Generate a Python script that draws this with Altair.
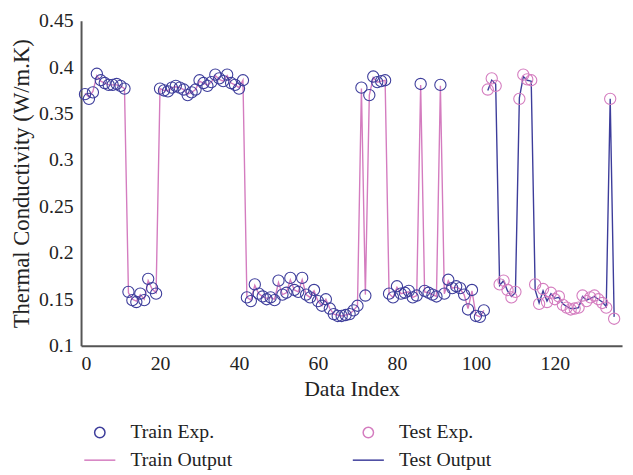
import altair as alt
import pandas as pd

# ---------------- data ----------------
train_index = list(range(1, 103))
train_exp = [
    0.371, 0.366, 0.373, 0.393, 0.386, 0.383, 0.381, 0.381, 0.382, 0.380, 0.377,
    0.158, 0.149, 0.147, 0.156, 0.149, 0.172, 0.162, 0.156,
    0.377, 0.375, 0.374, 0.378, 0.380, 0.378, 0.376, 0.370, 0.373, 0.376, 0.386,
    0.383, 0.380, 0.384, 0.392, 0.388, 0.385, 0.392, 0.383, 0.381, 0.377, 0.386,
    0.152, 0.148, 0.166, 0.156, 0.153, 0.150, 0.152, 0.149, 0.170, 0.155,
    0.157, 0.173, 0.160, 0.158, 0.173, 0.155, 0.152, 0.160, 0.148, 0.143,
    0.150, 0.140, 0.134, 0.132, 0.132, 0.133, 0.134, 0.138, 0.143,
    0.378, 0.154, 0.370, 0.390, 0.384, 0.385, 0.386,
    0.156, 0.152, 0.164, 0.156, 0.157, 0.159, 0.152, 0.154, 0.382, 0.159, 0.157,
    0.155, 0.153, 0.381, 0.156, 0.171, 0.162, 0.164, 0.162, 0.155, 0.139,
    0.160, 0.132, 0.131, 0.138,
]
train_out = [
    0.372, 0.368, 0.374, 0.391, 0.385, 0.383, 0.381, 0.381, 0.381, 0.380, 0.377,
    0.157, 0.150, 0.148, 0.155, 0.150, 0.170, 0.161, 0.157,
    0.377, 0.375, 0.375, 0.378, 0.379, 0.378, 0.376, 0.371, 0.373, 0.376, 0.385,
    0.383, 0.381, 0.384, 0.391, 0.387, 0.385, 0.391, 0.383, 0.381, 0.378, 0.386,
    0.152, 0.149, 0.165, 0.156, 0.153, 0.151, 0.152, 0.150, 0.168, 0.155,
    0.157, 0.171, 0.160, 0.158, 0.171, 0.155, 0.152, 0.159, 0.148, 0.143,
    0.150, 0.140, 0.134, 0.133, 0.132, 0.133, 0.134, 0.138, 0.143,
    0.377, 0.155, 0.370, 0.389, 0.384, 0.385, 0.386,
    0.156, 0.152, 0.163, 0.156, 0.157, 0.158, 0.152, 0.154, 0.381, 0.158, 0.157,
    0.155, 0.153, 0.380, 0.156, 0.170, 0.162, 0.163, 0.161, 0.155, 0.140,
    0.159, 0.133, 0.131, 0.138,
]

test_index = list(range(103, 136))
test_exp = [
    0.376, 0.388, 0.380,
    0.166, 0.170, 0.160, 0.152, 0.158,
    0.366, 0.392, 0.387, 0.386,
    0.166, 0.145, 0.161, 0.147, 0.157, 0.150, 0.153, 0.144, 0.141, 0.139,
    0.140, 0.141, 0.154, 0.148, 0.152, 0.154, 0.150, 0.146, 0.141,
    0.366, 0.129,
]
test_out = [
    0.375, 0.386, 0.382,
    0.165, 0.170, 0.159, 0.153, 0.157,
    0.367, 0.390, 0.386, 0.385,
    0.160, 0.146, 0.159, 0.148, 0.156, 0.151, 0.152, 0.145, 0.142, 0.140,
    0.140, 0.141, 0.153, 0.149, 0.151, 0.153, 0.150, 0.147, 0.142,
    0.366, 0.131,
]

# legend order is filled column by column
series_names = ["Train Exp.", "Train Output", "Test Exp.", "Test Output"]
series_colors = ["#3d3d9b", "#d47cbf", "#d47cbf", "#3d3d9b"]
series_shapes = ["circle", "M-3,0H3", "circle", "M-3,0H3"]

x_ticks = [0, 20, 40, 60, 80, 100, 120]
y_ticks = [0.1, 0.15, 0.2, 0.25, 0.3, 0.35, 0.4, 0.45]

# ---------------- tables ----------------
points_df = pd.concat([
    pd.DataFrame({"idx": train_index, "value": train_exp, "series": "Train Exp."}),
    pd.DataFrame({"idx": test_index, "value": test_exp, "series": "Test Exp."}),
])
train_line_df = pd.DataFrame({"idx": train_index, "value": train_out})
test_line_df = pd.DataFrame({"idx": test_index, "value": test_out})

FONT = "Liberation Serif"

x_enc = alt.X("idx:Q", title="Data Index",
              scale=alt.Scale(domain=[0, 137], nice=False, zero=False),
              axis=alt.Axis(values=x_ticks, format="d", titleFontSize=22))
y_enc = alt.Y("value:Q", title="Thermal Conductivity (W/m.K)",
              scale=alt.Scale(domain=[0.1, 0.45], nice=False, zero=False),
              axis=alt.Axis(values=y_ticks, format="~g", titleFontSize=23))

train_line = alt.Chart(train_line_df).mark_line(strokeWidth=1.4, color=series_colors[1]).encode(
    x=x_enc, y=y_enc)
test_line = alt.Chart(test_line_df).mark_line(strokeWidth=1.4, color=series_colors[3]).encode(
    x=x_enc, y=y_enc)

legend = alt.Legend(title=None, orient="none", legendX=9, legendY=407,
                    columns=2, columnPadding=118, rowPadding=8, padding=0,
                    labelFont=FONT, labelFontSize=20, labelColor="#222",
                    labelOffset=21, symbolStrokeWidth=1.5, symbolSize=110)

points = alt.Chart(points_df).mark_point(filled=False, strokeWidth=1.1, opacity=1, size=130).encode(
    x=x_enc,
    y=y_enc,
    color=alt.Color("series:N", scale=alt.Scale(domain=series_names, range=series_colors),
                    legend=legend),
    shape=alt.Shape("series:N", scale=alt.Scale(domain=series_names, range=series_shapes),
                    legend=legend),
)

chart = alt.layer(train_line, test_line, points).properties(
    width=548,
    height=329,
    autosize=alt.AutoSizeParams(type="none"),
    padding={"left": 74, "top": 10, "right": 3, "bottom": 128},
).configure_view(stroke=None).configure_axis(
    grid=False,
    ticks=False,
    domainColor="#555",
    domainWidth=2,
    labelFont=FONT,
    labelFontSize=20,
    labelColor="#222",
    labelPadding=8,
    titleFont=FONT,
    titleFontWeight="normal",
    titleColor="#222",
).configure_axisX(titlePadding=5).configure_axisY(titlePadding=5)

chart.save("out.html", embed_options={"renderer": "svg", "actions": False})
